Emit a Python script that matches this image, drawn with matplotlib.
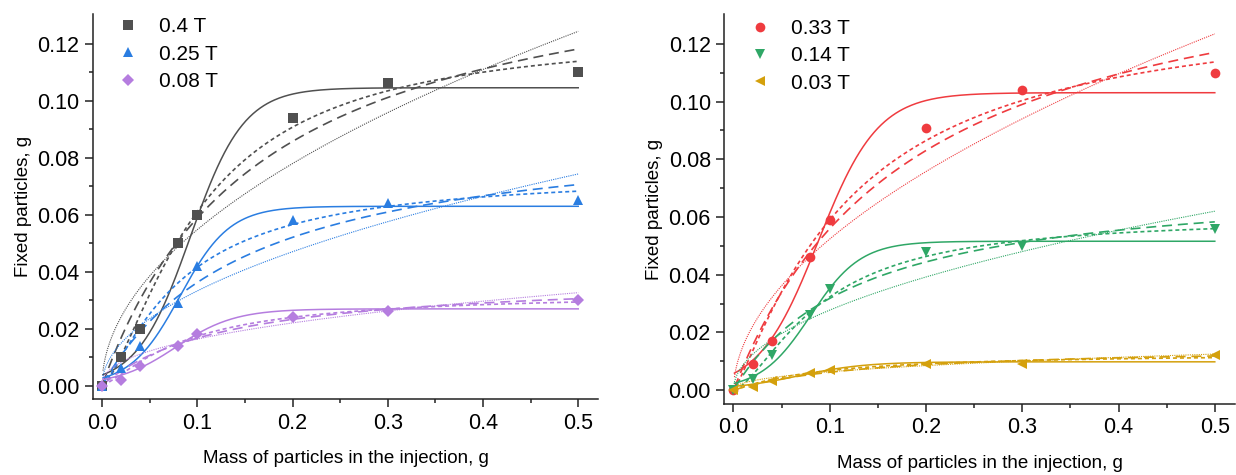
import matplotlib
matplotlib.use('Agg')
import matplotlib.pyplot as plt
import numpy as np

plt.rcParams['font.family'] = ['Liberation Sans', 'DejaVu Sans']

# Injected mass, g (same for every field strength)
mass = [0.0, 0.02, 0.04, 0.08, 0.1, 0.2, 0.3, 0.5]

# Fixed particles, g
fixed_040 = [0.0, 0.010, 0.020, 0.050, 0.060, 0.094, 0.106, 0.110]
fixed_025 = [0.0, 0.006, 0.014, 0.029, 0.042, 0.058, 0.064, 0.065]
fixed_008 = [0.0, 0.002, 0.007, 0.014, 0.018, 0.024, 0.026, 0.030]
fixed_033 = [0.0, 0.009, 0.017, 0.046, 0.059, 0.091, 0.104, 0.110]
fixed_014 = [0.0, 0.004, 0.012, 0.026, 0.035, 0.048, 0.050, 0.056]
fixed_003 = [0.0, 0.001, 0.003, 0.006, 0.007, 0.009, 0.009, 0.012]

# fit parameters for each series
# Boltzmann (A2, x0, dx)
boltz_040 = [0.1045, 0.0928, 0.028]
boltz_025 = [0.0629, 0.0820, 0.026]
boltz_008 = [0.0269, 0.0775, 0.031]
boltz_033 = [0.1031, 0.0880, 0.031]
boltz_014 = [0.0516, 0.0800, 0.026]
boltz_003 = [0.0098, 0.0670, 0.035]
# Sips (qm, K, n)
sips_040 = [0.125, 9.68, 1.47]
sips_025 = [0.075, 11.8, 1.30]
sips_008 = [0.0325, 11.04, 1.30]
sips_033 = [0.135, 8.10, 1.20]
sips_014 = [0.060, 11.05, 1.54]
sips_003 = [0.013, 10.9, 1.10]
# Langmuir (qm, K)
lang_040 = [0.158, 5.92]
lang_025 = [0.0925, 6.42]
lang_008 = [0.0385, 7.60]
lang_033 = [0.161, 5.33]
lang_014 = [0.0737, 7.59]
lang_003 = [0.0153, 6.80]
# Freundlich (K, 1/n)
freu_040 = [0.177, 0.51]
freu_025 = [0.105, 0.50]
freu_008 = [0.0439, 0.43]
freu_033 = [0.1787, 0.533]
freu_014 = [0.0877, 0.50]
freu_003 = [0.0167, 0.42]


def boltzmann(x, a2, x0, dx):
    return a2 / (1 + np.exp(-(x - x0) / dx))


def sips(x, qm, k, n):
    t = (k * x) ** n
    return qm * t / (1 + t)


def langmuir(x, qm, k):
    return qm * k * x / (1 + k * x)


def freundlich(x, k, p):
    return k * x ** p


xf = np.linspace(0.001, 0.5, 400)

left_series = [
    ('0.4 T', fixed_040, boltz_040, sips_040, lang_040, freu_040, '#505050', 's', 6.5),
    ('0.25 T', fixed_025, boltz_025, sips_025, lang_025, freu_025, '#2a7de1', '^', 7.5),
    ('0.08 T', fixed_008, boltz_008, sips_008, lang_008, freu_008, '#b57ddf', 'D', 6.3),
]
right_series = [
    ('0.33 T', fixed_033, boltz_033, sips_033, lang_033, freu_033, '#ef3b3f', 'o', 7),
    ('0.14 T', fixed_014, boltz_014, sips_014, lang_014, freu_014, '#2fa766', 'v', 7.5),
    ('0.03 T', fixed_003, boltz_003, sips_003, lang_003, freu_003, '#d4a00c', '<', 7.5),
]

fig = plt.figure(figsize=(12.36, 4.75), dpi=100)
ax1 = fig.add_axes([0.075, 0.159, 0.409, 0.811])
ax2 = fig.add_axes([0.5858, 0.149, 0.4134, 0.821])


def draw_panel(ax, series, leg_pos):
    for label, y, pb, ps, pl, pf, c, m, ms in series:
        ax.plot(xf, boltzmann(xf, *pb), '-', color=c, lw=1.1)
        ax.plot(xf, sips(xf, *ps), color=c, lw=1.2, ls=(0, (2.4, 1.8)))
        ax.plot(xf, langmuir(xf, *pl), color=c, lw=1.2, ls=(0, (6, 3.5)))
        ax.plot(xf, freundlich(xf, *pf), color=c, lw=0.8, ls=(0, (1, 1)))
        ax.plot(mass, y, linestyle='None', marker=m, ms=ms, color=c,
                markeredgewidth=0, label=label, zorder=5)

    ax.set_xlim(-0.0098, 0.521)
    ax.set_ylim(-0.0049, 0.1303)
    ax.set_xticks([0.0, 0.1, 0.2, 0.3, 0.4, 0.5])
    ax.set_xticks(np.arange(0.05, 0.5, 0.1), minor=True)
    ax.set_yticks(np.arange(0, 0.121, 0.02))
    ax.set_yticks(np.arange(0.01, 0.13, 0.02), minor=True)
    ax.set_xticklabels(['0.0', '0.1', '0.2', '0.3', '0.4', '0.5'])
    ax.set_yticklabels(['%.2f' % v for v in np.arange(0, 0.121, 0.02)])

    ax.spines['top'].set_visible(False)
    ax.spines['right'].set_visible(False)
    for s in ('left', 'bottom'):
        ax.spines[s].set_linewidth(1.1)
        ax.spines[s].set_color('#222222')
    ax.tick_params(which='major', direction='out', length=5.5, width=1.1,
                   labelsize=15.5, color='#222222', pad=4)
    ax.tick_params(which='minor', direction='out', length=3, width=1.1,
                   color='#222222')

    ax.set_xlabel('Mass of particles in the injection, g', fontsize=13.5, labelpad=12)
    ax.set_ylabel('Fixed particles, g', fontsize=13.5, labelpad=4)

    ax.legend(loc='upper left', bbox_to_anchor=leg_pos, frameon=False,
              fontsize=15, handlelength=1.0, handletextpad=1.0,
              labelspacing=0.4, borderaxespad=0)


draw_panel(ax1, left_series, (0.033, 1.014))
draw_panel(ax2, right_series, (0.033, 1.009))

plt.savefig('out.png', dpi=100)
